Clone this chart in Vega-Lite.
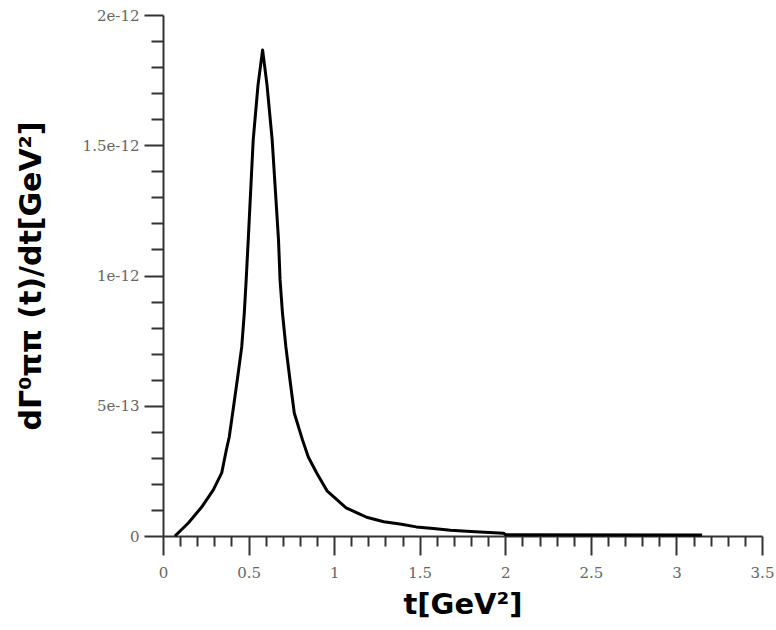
{
  "$schema": "https://vega.github.io/schema/vega-lite/v6.json",
  "autosize": {"type": "none"},
  "padding": {"left": 163, "top": 15, "right": 14, "bottom": 94},
  "width": 599,
  "height": 521,
  "background": "white",
  "config": {"view": {"stroke": null}},
  "data": {"values": [
    {"t": 0.07, "v": 0},
    {"t": 0.148, "v": 5.0e-14},
    {"t": 0.226, "v": 1.11e-13},
    {"t": 0.294, "v": 1.77e-13},
    {"t": 0.343, "v": 2.42e-13},
    {"t": 0.370, "v": 3.3e-13},
    {"t": 0.387, "v": 3.8e-13},
    {"t": 0.407, "v": 4.72e-13},
    {"t": 0.434, "v": 5.99e-13},
    {"t": 0.460, "v": 7.26e-13},
    {"t": 0.475, "v": 8.56e-13},
    {"t": 0.486, "v": 9.83e-13},
    {"t": 0.498, "v": 1.136e-12},
    {"t": 0.527, "v": 1.52e-12},
    {"t": 0.555, "v": 1.73e-12},
    {"t": 0.582, "v": 1.866e-12},
    {"t": 0.608, "v": 1.73e-12},
    {"t": 0.638, "v": 1.52e-12},
    {"t": 0.675, "v": 1.136e-12},
    {"t": 0.684, "v": 9.83e-13},
    {"t": 0.698, "v": 8.56e-13},
    {"t": 0.718, "v": 7.26e-13},
    {"t": 0.742, "v": 5.99e-13},
    {"t": 0.767, "v": 4.72e-13},
    {"t": 0.815, "v": 3.69e-13},
    {"t": 0.849, "v": 3.03e-13},
    {"t": 0.898, "v": 2.42e-13},
    {"t": 0.96, "v": 1.72e-13},
    {"t": 1.07, "v": 1.08e-13},
    {"t": 1.15, "v": 8.4e-14},
    {"t": 1.19, "v": 7.2e-14},
    {"t": 1.29, "v": 5.5e-14},
    {"t": 1.384, "v": 4.6e-14},
    {"t": 1.48, "v": 3.5e-14},
    {"t": 1.58, "v": 2.9e-14},
    {"t": 1.68, "v": 2.2e-14},
    {"t": 1.775, "v": 1.8e-14},
    {"t": 1.88, "v": 1.4e-14},
    {"t": 1.99, "v": 1.1e-14},
    {"t": 2.0, "v": 5e-15},
    {"t": 3.15, "v": 4e-15}
  ]},
  "mark": {"type": "line", "color": "black", "strokeWidth": 3, "interpolate": "linear", "strokeJoin": "round"},
  "encoding": {
    "x": {
      "field": "t", "type": "quantitative",
      "scale": {"domain": [0, 3.5], "nice": false, "zero": false},
      "axis": {
        "title": "t[GeV²]",
        "values": [0,0.1,0.2,0.3,0.4,0.5,0.6,0.7,0.8,0.9,1,1.1,1.2,1.3,1.4,1.5,1.6,1.7,1.8,1.9,2,2.1,2.2,2.3,2.4,2.5,2.6,2.7,2.8,2.9,3,3.1,3.2,3.3,3.4,3.5],
        "labelExpr": "abs(datum.value*2 - round(datum.value*2)) < 1e-6 ? format(datum.value, '~g') : ''",
        "tickSize": {"condition": {"test": "abs(datum.value*2 - round(datum.value*2)) < 1e-6", "value": 19}, "value": 10},
        "grid": false,
        "domainColor": "#333333", "domainWidth": 2,
        "tickColor": "#333333", "tickWidth": 2,
        "labelFont": "DejaVu Serif", "labelFontSize": 15, "labelColor": "#666666",
        "labelPadding": 10, "labelFlush": false, "labelOverlap": false,
        "titleFont": "DejaVu Sans", "titleFontSize": 29, "titleFontWeight": "bold", "titleColor": "black",
        "titlePadding": 10
      }
    },
    "y": {
      "field": "v", "type": "quantitative",
      "scale": {"domain": [0, 2e-12], "nice": false},
      "axis": {
        "title": "dΓ⁰ππ (t)/dt[GeV²]",
        "values": [0,1e-13,2e-13,3e-13,4e-13,5e-13,6e-13,7e-13,8e-13,9e-13,1e-12,1.1e-12,1.2e-12,1.3e-12,1.4e-12,1.5e-12,1.6e-12,1.7e-12,1.8e-12,1.9e-12,2e-12],
        "labelExpr": "abs(datum.value/5e-13 - round(datum.value/5e-13)) < 1e-6 ? (datum.value == 0 ? '0' : format(datum.value, '.1~e')) : ''",
        "tickSize": {"condition": {"test": "abs(datum.value/5e-13 - round(datum.value/5e-13)) < 1e-6", "value": 19}, "value": 12},
        "grid": false,
        "domainColor": "#333333", "domainWidth": 2,
        "tickColor": "#333333", "tickWidth": 2,
        "labelFont": "DejaVu Serif", "labelFontSize": 15, "labelColor": "#666666",
        "labelPadding": 5, "labelFlush": false, "labelOverlap": false,
        "titleFont": "DejaVu Sans", "titleFontSize": 30, "titleFontWeight": "bold", "titleColor": "black",
        "titlePadding": 36
      }
    }
  }
}
